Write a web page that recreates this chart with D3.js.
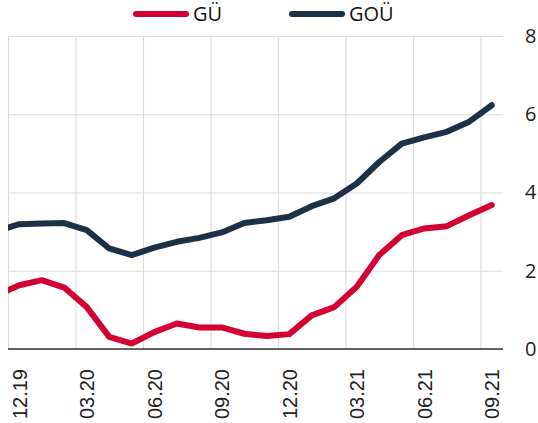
<!DOCTYPE html>
<html>
<head>
<meta charset="utf-8">
<script src="https://cdn.jsdelivr.net/npm/d3@7"></script>
<style>
  body { margin: 0; background: #fff; }
  svg { display: block; }
</style>
</head>
<body>
<div id="chart"></div>
<script>
// Data: monthly values, Nov 2019 .. Sep 2021
const months = ["11.19", "12.19", "01.20", "02.20", "03.20", "04.20", "05.20", "06.20",
    "07.20", "08.20", "09.20", "10.20", "11.20", "12.20", "01.21", "02.21", "03.21",
    "04.21", "05.21", "06.21", "07.21", "08.21", "09.21"];
const gu = [1.37, 1.63, 1.76, 1.57, 1.07, 0.31, 0.14, 0.43, 0.65, 0.55, 0.55, 0.39,
    0.33, 0.38, 0.86, 1.07, 1.59, 2.40, 2.91, 3.08, 3.14, 3.42, 3.68];
const gou = [3.02, 3.19, 3.21, 3.22, 3.04, 2.57, 2.40, 2.59, 2.74, 2.84, 2.98, 3.22,
    3.29, 3.38, 3.65, 3.85, 4.23, 4.78, 5.25, 5.41, 5.55, 5.81, 6.23];
const tickLabels = ["12.19", "03.20", "06.20", "09.20", "12.20", "03.21", "06.21", "09.21"];
const yTicks = [0, 2, 4, 6, 8];
const seriesNames = ["GÜ", "GOÜ"];
const colors = ["#d40032", "#1c3146"];

const margin = {top: 36, right: 35, bottom: 74, left: 8};
const width = 538 - margin.left - margin.right, height = 423 - margin.top - margin.bottom;

const svg = d3.select("#chart")
    .append("svg")
    .attr("width", 538)
    .attr("height", 423)
    .append("g")
    .attr("transform", "translate(" + margin.left + "," + margin.top + ")");

// month index: start of months[i] is i, points sit mid-month
const xScale = d3.scaleLinear().domain([1, 23]).range([0, width]);
const yScale = d3.scaleLinear().domain([0, 8]).range([height, 0]);

// horizontal grid + labels on the right
const yAxis = svg.append("g")
    .attr("transform", "translate(" + width + ",0)")
    .call(d3.axisRight(yScale).tickValues(yTicks).tickSize(-width).tickPadding(22));
yAxis.select(".domain").remove();
yAxis.selectAll("line").attr("stroke", "#dcdcdc").attr("stroke-width", 1.2);
yAxis.selectAll("text")
    .style("font-family", "'Open Sans', sans-serif")
    .style("font-size", "20px")
    .attr("fill", "#222");

// vertical grid + rotated labels
const tickIdx = tickLabels.map(t => months.indexOf(t));
const xAxis = svg.append("g")
    .attr("transform", "translate(0," + height + ")")
    .call(d3.axisBottom(xScale).tickValues(tickIdx).tickSize(-height)
        .tickFormat(d => months[d]));
xAxis.select(".domain").remove();
xAxis.selectAll("line").attr("stroke", "#dcdcdc").attr("stroke-width", 1.2);
const halfMonth = xScale(1.5) - xScale(1);
xAxis.selectAll("text")
    .attr("y", null)
    .attr("dy", "0.35em")
    .attr("transform", "translate(" + halfMonth + ",20) rotate(-90)")
    .style("text-anchor", "end")
    .style("font-family", "'Liberation Sans', Arial, sans-serif")
    .style("font-size", "20px")
    .attr("fill", "#222");

// baseline
svg.append("line")
    .attr("x1", 0).attr("x2", width)
    .attr("y1", yScale(0)).attr("y2", yScale(0))
    .attr("stroke", "#333")
    .attr("stroke-width", 1.5);

// clip lines to plot area
svg.append("clipPath").attr("id", "plot-clip")
    .append("rect")
    .attr("x", 0).attr("y", -10)
    .attr("width", width + 10).attr("height", height + 20);

const line = d3.line()
    .x((d, i) => xScale(i + 0.5))
    .y(d => yScale(d));

[gu, gou].forEach((values, s) => {
    svg.append("path")
        .datum(values)
        .attr("clip-path", "url(#plot-clip)")
        .attr("fill", "none")
        .attr("stroke", colors[s])
        .attr("stroke-width", 6)
        .attr("stroke-linejoin", "round")
        .attr("stroke-linecap", "round")
        .attr("d", line);
});

// legend
const legend = svg.append("g").attr("transform", "translate(0," + (-margin.top) + ")");
const legendX = [125, 281];
seriesNames.forEach((name, s) => {
    const g = legend.append("g").attr("transform", "translate(" + legendX[s] + ",14)");
    g.append("line")
        .attr("x1", 3).attr("x2", 53)
        .attr("stroke", colors[s])
        .attr("stroke-width", 6)
        .attr("stroke-linecap", "round");
    g.append("text")
        .attr("x", 60)
        .attr("dy", "0.35em")
        .style("font-family", "'Open Sans', sans-serif")
        .style("font-size", "20px")
        .attr("fill", "#111")
        .text(name);
});
</script>
</body>
</html>
